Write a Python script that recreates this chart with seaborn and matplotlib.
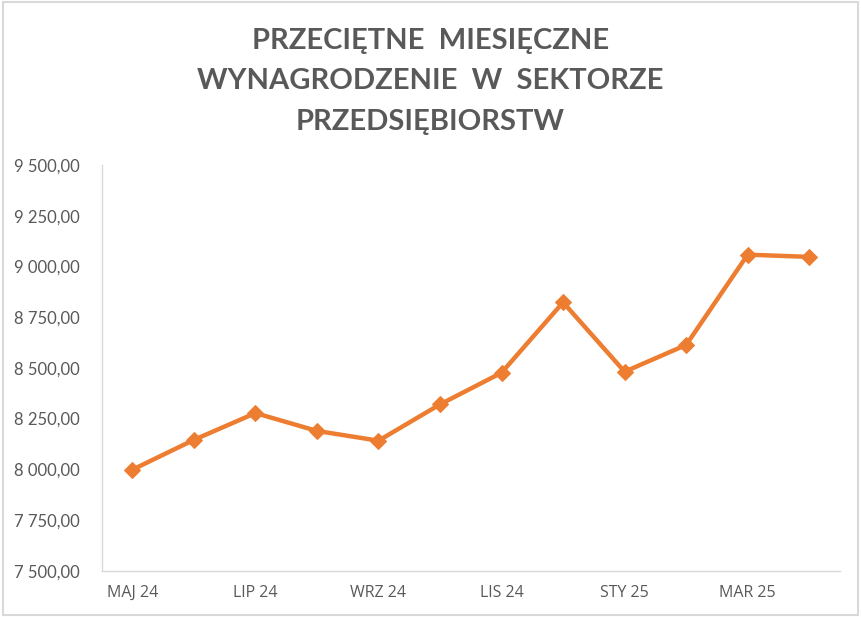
import matplotlib
matplotlib.use("Agg")
import matplotlib.pyplot as plt
from matplotlib.ticker import FuncFormatter
from matplotlib.patches import Rectangle
import seaborn as sns
import pandas as pd

# dane: przecietne miesieczne wynagrodzenie
months = ["MAJ 24", "CZE 24", "LIP 24", "SIE 24", "WRZ 24", "PAŹ 24",
          "LIS 24", "GRU 24", "STY 25", "LUT 25", "MAR 25", "KWI 25"]
wages = [7998, 8145, 8277, 8189, 8141, 8320,
         8476, 8823, 8481, 8613, 9058, 9047]
title_lines = ["PRZECIĘTNE  MIESIĘCZNE",
               "WYNAGRODZENIE  W  SEKTORZE",
               "PRZEDSIĘBIORSTW"]

df = pd.DataFrame({"miesiac": months, "wynagrodzenie": wages})

sns.set_style("white")
plt.rcParams["font.family"] = ["Lato", "DejaVu Sans"]

grey = "#595959"
orange = "#ED7D31"

fig = plt.figure(figsize=(8.61, 6.17), dpi=100)
ax = fig.add_axes([0.118, 0.075, 0.8576, 0.6576])

sns.lineplot(data=df, x="miesiac", y="wynagrodzenie", ax=ax, sort=False,
             color=orange, linewidth=3.2, marker="D", markersize=8,
             markeredgecolor=orange)

ax.set_ylim(7500, 9500)
ax.set_yticks(range(7500, 9501, 250))
ax.yaxis.set_major_formatter(FuncFormatter(
    lambda v, p: f"{v:,.2f}".replace(",", " ").replace(".", ",")))
ax.set_xlim(-0.5, len(months) - 0.5)
ax.set_xticks(range(0, len(months), 2))
ax.set_xticklabels(months[::2])

ax.set_xlabel("")
ax.set_ylabel("")
ax.tick_params(axis="y", length=0, pad=15.5, labelsize=12, labelcolor=grey)
ax.tick_params(axis="x", length=0, pad=10.5, labelsize=11.5, labelcolor=grey)
for lab in ax.get_xticklabels():
    lab.set_fontfamily(["Open Sans", "DejaVu Sans"])

for side in ["top", "right"]:
    ax.spines[side].set_visible(False)
for side in ["left", "bottom"]:
    ax.spines[side].set_color("#d9d9d9")
    ax.spines[side].set_linewidth(1)

ys = [0.933, 0.868, 0.803]
for line, y in zip(title_lines, ys):
    fig.text(0.5, y, line, ha="center", va="center", fontsize=21,
             fontweight="bold", color=grey)

fig.patches.append(Rectangle((0.003, 0.003), 0.994, 0.994, transform=fig.transFigure,
                             fill=False, edgecolor="#d9d9d9", linewidth=1.5))

fig.savefig("out.png", dpi=100)
